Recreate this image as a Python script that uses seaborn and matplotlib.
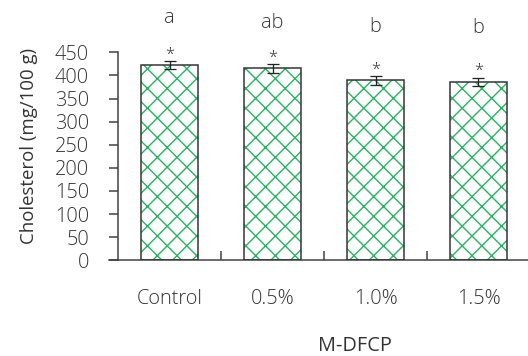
import matplotlib
matplotlib.use("Agg")
import matplotlib.pyplot as plt
from matplotlib.patches import Rectangle
import seaborn as sns
import pandas as pd

categories = ["Control", "0.5%", "1.0%", "1.5%"]
cholesterol = [422, 415, 389, 386]
errors = [9, 9, 9, 9]
letters = ["a", "ab", "b", "b"]
letter_heights = [524, 513, 505, 503]

df = pd.DataFrame({"group": categories, "chol": cholesterol})

DPI = 118
S = 84 / DPI  # keep pixel sizes tuned at 84 dpi

sns.set_style("white")
plt.rcParams["font.family"] = ["Open Sans", "DejaVu Sans"]
plt.rcParams["font.weight"] = "light"
plt.rcParams["hatch.linewidth"] = 1.2 * S

fig = plt.figure(figsize=(528 / DPI, 356 / DPI), dpi=DPI)
ax = fig.add_axes([109 / 528, 95.7 / 356, 419 / 528, 208 / 356])

txt = "#333333"
green = "#27b562"

sns.barplot(data=df, x="group", y="chol", order=categories, color="white",
            width=0.55, errorbar=None, ax=ax)

for p in list(ax.patches):
    p.set_facecolor("white")
    p.set_edgecolor(green)
    p.set_linewidth(0)
    p.set_hatch("xx")
    ax.add_patch(Rectangle(p.get_xy(), p.get_width(), p.get_height(),
                           fill=False, edgecolor="#333333", linewidth=1.3 * S, zorder=3))

xs = range(len(categories))
ax.errorbar(xs, cholesterol, yerr=errors, fmt="none", ecolor="#222222",
            elinewidth=1.1 * S, capsize=5.2 * S, capthick=1.1 * S, zorder=4)

for i, (v, e) in enumerate(zip(cholesterol, errors)):
    ax.text(i, v + e - 3, "*", ha="center", va="bottom", fontsize=14 * S,
            color=txt, clip_on=False)
    ax.text(i, letter_heights[i], letters[i], ha="center", va="center",
            fontsize=17 * S, color=txt, clip_on=False)

ax.set_ylim(0, 450)
ax.set_xlim(-0.5 - 9 / 103, 3.5 - 2 / 103)
ax.set_yticks(range(0, 451, 50))
ax.set_xticks(list(xs))
ax.set_xticklabels(categories)
ax.set_xticks([0.5, 1.5, 2.5], minor=True)

for s in ["top", "right"]:
    ax.spines[s].set_visible(False)
ax.spines["left"].set_position(("data", -0.5))
for s in ["left", "bottom"]:
    ax.spines[s].set_color("#404040")
    ax.spines[s].set_linewidth(1.3 * S)

ax.tick_params(axis="y", which="major", direction="out", length=7.7 * S, width=1.3 * S,
               color="#404040", pad=17 * S, labelsize=17 * S, labelcolor=txt, left=True)
ax.tick_params(axis="x", which="major", length=0, pad=25 * S, labelsize=17 * S,
               labelcolor=txt)
ax.tick_params(axis="x", which="minor", direction="in", length=7.7 * S, width=1.3 * S,
               color="#404040", bottom=True)

ax.set_ylabel("Cholesterol (mg/100 g)", fontsize=16 * S, color=txt)
ax.yaxis.set_label_coords(-0.169, 0.55)
ax.set_xlabel("M-DFCP", fontsize=17 * S, color=txt)
ax.xaxis.set_label_coords(0.587, -0.364)

fig.savefig("out.png", dpi=DPI)
